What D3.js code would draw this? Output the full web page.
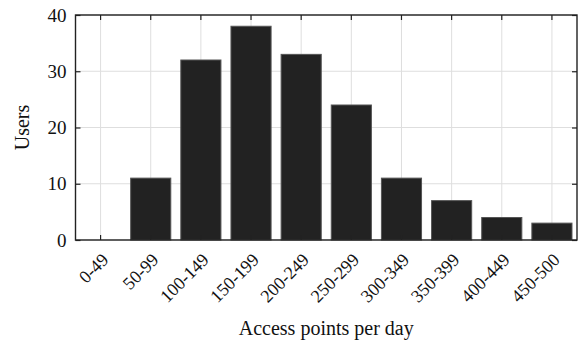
<!DOCTYPE html>
<html>
<head>
<meta charset="utf-8">
<script src="https://cdn.jsdelivr.net/npm/d3@7"></script>
<style>
  body { margin: 0; background: #fff; }
</style>
</head>
<body>
<svg id="chart" width="580" height="347"></svg>
<script>
// data
const categories = ['0-49', '50-99', '100-149', '150-199', '200-249', '250-299', '300-349', '350-399', '400-449', '450-500'];
const users = [0, 11, 32, 38, 33, 24, 11, 7, 4, 3];
const yTicks = [0, 10, 20, 30, 40];

const FONT = "'Liberation Serif', 'Times New Roman', 'DejaVu Serif', serif";

const width = 580,
  height = 347,
  margin = { top: 15, right: 3, bottom: 107, left: 75.5 };

const svg = d3.select('#chart');
const innerW = width - margin.left - margin.right;
const innerH = height - margin.top - margin.bottom;

const x = d3.scaleBand().domain(categories).range([0, innerW]).paddingInner(0.2).paddingOuter(0.1);
const y = d3.scaleLinear().domain([0, 40]).range([innerH, 0]);

const g = svg.append('g').attr('transform', `translate(${margin.left},${margin.top})`);

// grid
g.selectAll('.vgrid')
  .data(categories)
  .join('line')
  .attr('x1', d => x(d) + x.bandwidth() / 2)
  .attr('x2', d => x(d) + x.bandwidth() / 2)
  .attr('y1', 0)
  .attr('y2', innerH)
  .attr('stroke', '#dedede')
  .attr('stroke-width', 1);

g.selectAll('.hgrid')
  .data(yTicks)
  .join('line')
  .attr('x1', 0)
  .attr('x2', innerW)
  .attr('y1', d => y(d))
  .attr('y2', d => y(d))
  .attr('stroke', '#dedede')
  .attr('stroke-width', 1);

// bars
g.selectAll('.bar')
  .data(users)
  .join('rect')
  .attr('x', (d, i) => x(categories[i]))
  .attr('y', d => y(d))
  .attr('width', x.bandwidth())
  .attr('height', d => innerH - y(d))
  .attr('fill', '#222')
  .attr('stroke', '#555')
  .attr('stroke-width', 1);

// axes (box, ticks inside)
const axLeft = d3.axisLeft(y).tickValues(yTicks).tickSize(-5).tickPadding(9);
const axRight = d3.axisRight(y).tickValues(yTicks).tickSize(-5).tickFormat('');
const axBottom = d3.axisBottom(x).tickSize(-5).tickFormat('');
const axTop = d3.axisTop(x).tickSize(-5).tickFormat('');

function styleAxis(sel) {
  sel.select('.domain').remove();
  sel.selectAll('.tick line').attr('stroke', '#222').attr('stroke-width', 1.2);
}

g.append('g').call(axLeft).call(styleAxis)
  .attr('font-family', null)
  .attr('font-size', null)
  .selectAll('text')
  .style('font-family', FONT)
  .style('font-size', '19px')
  .attr('fill', '#111');
g.append('g').attr('transform', `translate(${innerW},0)`).call(axRight).call(styleAxis);
g.append('g').attr('transform', `translate(0,${innerH})`).call(axBottom).call(styleAxis);
g.append('g').call(axTop).call(styleAxis);
g.append('rect')
  .attr('width', innerW)
  .attr('height', innerH)
  .attr('fill', 'none')
  .attr('stroke', '#222')
  .attr('stroke-width', 1.4);

// rotated category labels
g.selectAll('.xlab')
  .data(categories)
  .join('text')
  .attr('transform', d => `translate(${x(d) + x.bandwidth() / 2 + 9},${innerH + 21}) rotate(-45)`)
  .attr('text-anchor', 'end')
  .style('font-family', FONT)
  .style('font-size', '18px')
  .attr('fill', '#111')
  .text(d => d);

// axis titles
svg.append('text')
  .attr('x', margin.left + innerW / 2)
  .attr('y', 335)
  .attr('text-anchor', 'middle')
  .style('font-family', FONT)
  .style('font-size', '20px')
  .attr('fill', '#111')
  .text('Access points per day');

svg.append('text')
  .attr('transform', `translate(29,${margin.top + innerH / 2}) rotate(-90)`)
  .attr('text-anchor', 'middle')
  .style('font-family', FONT)
  .style('font-size', '20px')
  .attr('fill', '#111')
  .text('Users');
</script>
</body>
</html>
